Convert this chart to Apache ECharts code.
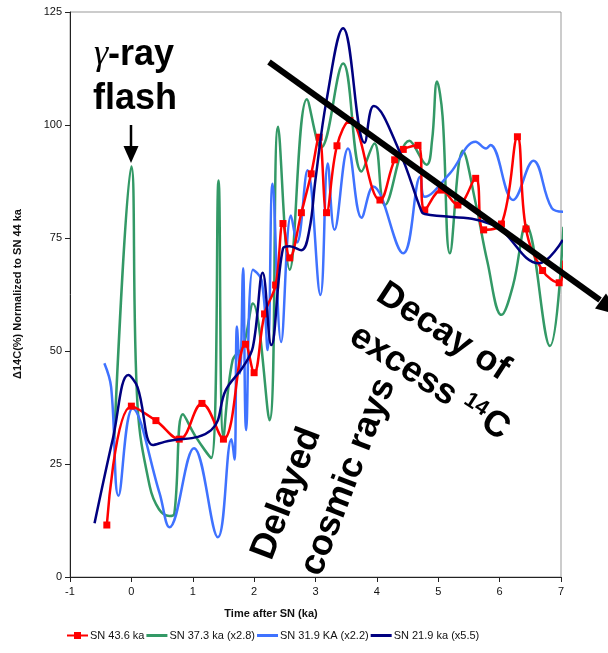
<!DOCTYPE html>
<html><head><meta charset="utf-8">
<script src="https://cdn.jsdelivr.net/npm/echarts/dist/echarts.min.js"></script>
<style>html,body{margin:0;padding:0;background:#fff}#c{width:608px;height:653px}</style>
</head><body><div id="c"></div>
<script>
const seriesNames = ['SN 43.6 ka', 'SN 37.3 ka (x2.8)', 'SN 31.9 KA (x2.2)', 'SN 21.9 ka (x5.5)'];
const seriesColors = ['#ff0000', '#339966', '#3f72ff', '#000080'];
const xTicks = [-1, 0, 1, 2, 3, 4, 5, 6, 7];
const yTicks = [0, 25, 50, 75, 100, 125];

const red = [[-0.40,11.5],[0,37.8],[0.40,34.6],[0.78,30.5],[1.15,38.4],[1.50,30.5],[1.86,51.5],[2.0,45.2],
  [2.17,58.2],[2.35,64.6],[2.47,78.2],[2.58,70.6],[2.77,80.6],[2.93,89.2],[3.06,97.3],[3.18,80.6],[3.35,95.4],
  [3.56,101],[4.05,83.4],[4.29,92.3],[4.43,94.6],[4.67,95.5],[4.78,81.2],[5.05,85.6],[5.32,82.3],[5.61,88.2],
  [5.74,76.8],[6.03,78.1],[6.29,97.4],[6.43,77.0],[6.70,67.8],[6.97,65.1],[7.04,70]];

const green = [[-0.28,30.5],[0,90.8],[0.10,38],[0.30,20],[0.45,15],[0.62,13.5],[0.70,14],[0.84,36],[1.05,31],
  [1.30,26.3],[1.42,87.7],[1.50,31],[1.65,48],[1.82,51],[1.98,60.5],[2.25,34.7],[2.39,99.6],[2.58,68],[2.86,105.7],
  [3.09,95],[3.45,113.6],[3.75,89.7],[3.96,95.9],[4.13,82.3],[4.53,96.5],[4.81,91.2],[4.90,96.7],[4.98,109.6],
  [5.07,102],[5.19,71.6],[5.40,94.3],[5.61,82.7],[5.80,69.8],[6.03,58],[6.22,64.6],[6.43,77.9],[6.82,51.1],[7.04,77.5]];

const blue = [[-0.44,47.3],[-0.33,42],[-0.21,18],[0.02,37.3],[0.46,18.5],[0.62,11],[1.02,28.5],[1.41,8.8],
  [1.63,30.5],[1.68,26],[1.72,55.4],[1.77,45],[1.82,68.3],[1.87,32.5],[1.98,68],[2.12,65.7],[2.22,50.2],[2.30,87],
  [2.44,52],[2.6,80],[2.7,74],[2.87,90],[3.08,62.4],[3.2,91.5],[3.31,76.8],[3.53,94.8],[3.75,79.5],[3.94,86.4],
  [4.43,71.6],[4.71,88.6],[4.78,84.1],[5.19,89.3],[5.61,96.3],[5.78,94.8],[5.85,95.6],[6.22,83.4],[6.55,92.1],
  [6.85,81.6],[7.04,80.8]];

const navy = [[-0.60,11.9],[-0.30,30.7],[-0.05,44.7],[0.10,42],[0.35,29.2],[0.54,29.9],[1.30,32.5],[1.54,41.4],
  [1.82,46.5],[1.98,50.9],[2.14,67.3],[2.28,51.3],[2.47,72.7],[2.58,73.2],[2.77,72.3],[2.90,76.8],[3.0,88],
  [3.18,105.5],[3.45,121.4],[3.80,96.1],[3.95,104.2],[4.37,94.1],[4.73,80.8],[4.78,80.3],[5.89,77.9],[6.64,69.4],[7.03,74.6]];

const seriesData = [red, green, blue, navy];

const FONT = '"Liberation Sans", Arial, sans-serif';
const chart = echarts.init(document.getElementById('c'), null, {renderer: 'canvas'});
const deg = Math.PI / 180;

const series = seriesData.map((d, i) => ({
  type: 'line',
  name: seriesNames[i],
  // points beyond the x-axis maximum are drawn as line only (no marker)
  data: d.map(p => p[0] > xTicks[xTicks.length - 1] ? {value: p, symbol: 'none'} : p),
  smooth: 0.4,
  clip: false,
  symbol: i === 0 ? 'rect' : 'none',
  symbolSize: 7,
  showSymbol: i === 0,
  lineStyle: {width: 2.5, color: seriesColors[i]},
  itemStyle: {color: seriesColors[i]},
  z: [3, 1, 2, 4][i],
  animation: false
}));

const iconLineMarker = 'path://M0,3 L21,3 L21,5 L0,5 Z M7,0.5 L14,0.5 L14,7.5 L7,7.5 Z';
const iconLine = 'path://M0,2.5 L21,2.5 L21,5.5 L0,5.5 Z M0,0 L0.01,0 L0.01,8 L0,8 Z';

chart.setOption({
  animation: false,
  backgroundColor: '#fff',
  grid: {left: 70, right: 47, top: 12, bottom: 76, show: true, borderColor: '#999', borderWidth: 1},
  xAxis: {
    type: 'value', min: xTicks[0], max: xTicks[xTicks.length - 1], interval: 1,
    axisLine: {onZero: false, lineStyle: {color: '#222', width: 1}},
    axisTick: {show: true, length: 5, lineStyle: {color: '#222'}},
    axisLabel: {color: '#111', fontSize: 11, fontFamily: FONT, margin: 9},
    splitLine: {show: false}
  },
  yAxis: {
    type: 'value', min: yTicks[0], max: yTicks[yTicks.length - 1], interval: 25,
    axisLine: {show: true, onZero: false, lineStyle: {color: '#222', width: 1}},
    axisTick: {show: true, length: 5, lineStyle: {color: '#222'}},
    axisLabel: {color: '#111', fontSize: 11, fontFamily: FONT, margin: 8},
    splitLine: {show: false}
  },
  legend: {
    data: seriesNames.map((n, i) => ({name: n, icon: i === 0 ? iconLineMarker : iconLine})),
    bottom: 12, left: 67, itemWidth: 21, itemHeight: 8, itemGap: 2, padding: 0,
    textStyle: {fontSize: 11, fontFamily: FONT, color: '#111', padding: [0, 0, 0, -3]}
  },
  series: series,
  graphic: [
    {type: 'text', x: 18, y: 294, rotation: 90 * deg,
     style: {text: 'Δ14C(%) Normalized to SN 44 ka', font: 'bold 11px ' + FONT, fill: '#111', align: 'center', verticalAlign: 'middle'}},
    {type: 'text', x: 271, y: 614,
     style: {text: 'Time after SN (ka)', font: 'bold 11px ' + FONT, fill: '#111', align: 'center', verticalAlign: 'middle'}},
    {type: 'text', x: 134, y: 55, z: 100,
     style: {text: '{g|γ}{t|-ray}', align: 'center', verticalAlign: 'middle',
       rich: {g: {font: 'italic 36px "Liberation Serif", serif', fill: '#000'}, t: {font: 'bold 36px ' + FONT, fill: '#000'}}}},
    {type: 'text', x: 135, y: 99, z: 100,
     style: {text: 'flash', font: 'bold 36px ' + FONT, fill: '#000', align: 'center', verticalAlign: 'middle'}},
    {type: 'line', z: 100, shape: {x1: 131, y1: 125, x2: 131, y2: 150}, style: {stroke: '#000', lineWidth: 2.5}},
    {type: 'polygon', z: 100, shape: {points: [[123.5, 146], [138.5, 146], [131, 163]]}, style: {fill: '#000'}},
    {type: 'line', z: 100, shape: {x1: 269, y1: 62, x2: 600, y2: 300}, style: {stroke: '#000', lineWidth: 6}},
    {type: 'polygon', z: 100, shape: {points: [[620, 315], [595, 308.5], [606, 293.5]]}, style: {fill: '#000'}},
    {type: 'text', x: 380, y: 291, rotation: -33 * deg, z: 100,
     style: {text: 'Decay of', font: 'bold 36px ' + FONT, fill: '#000', align: 'left', verticalAlign: 'middle'}},
    {type: 'text', x: 353, y: 333, rotation: -33 * deg, z: 100,
     style: {text: 'excess {s|14}C', font: 'bold 36px ' + FONT, fill: '#000', align: 'left', verticalAlign: 'middle',
       rich: {s: {font: 'bold 22px ' + FONT, fill: '#000', verticalAlign: 'top', padding: [0, 2, 14, 0]}}}},
    {type: 'text', x: 262, y: 558, rotation: 69 * deg, z: 100,
     style: {text: 'Delayed', font: 'bold 36px ' + FONT, fill: '#000', align: 'left', verticalAlign: 'middle'}},
    {type: 'text', x: 311, y: 574, rotation: 69 * deg, z: 100,
     style: {text: 'cosmic rays', font: 'bold 36px ' + FONT, fill: '#000', align: 'left', verticalAlign: 'middle'}}
  ]
});
</script></body></html>
